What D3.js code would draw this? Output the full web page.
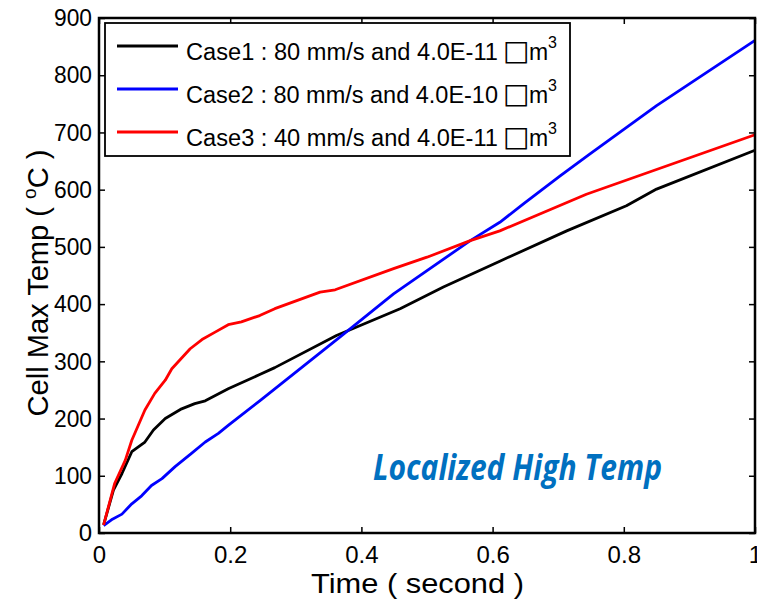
<!DOCTYPE html>
<html>
<head>
<meta charset="utf-8">
<script src="https://cdn.jsdelivr.net/npm/d3@7"></script>
<style>
  body { margin: 0; background: #fff; }
  svg { display: block; font-family: "Liberation Sans", Arial, sans-serif; }
</style>
</head>
<body>
<script>
const w = 757;
const h = 600;
const margin = { top: 18, right: 2, bottom: 67, left: 99 };

// Case1 : 80 mm/s and 4.0E-11
const case1Time = [0.007, 0.022, 0.035, 0.05, 0.07, 0.083, 0.101, 0.126, 0.146, 0.162, 0.197, 0.245, 0.268, 0.362, 0.459, 0.525, 0.611, 0.713, 0.804, 0.85, 1.0];
const case1Temp = [14, 75, 104, 142, 159, 180, 200, 217, 226, 231, 252, 277, 289, 345, 392, 430, 475, 528, 572, 601, 669];

// Case2 : 80 mm/s and 4.0E-10
const case2Time = [0.007, 0.019, 0.035, 0.05, 0.065, 0.08, 0.096, 0.116, 0.141, 0.162, 0.182, 0.197, 0.245, 0.268, 0.37, 0.449, 0.566, 0.611, 0.647, 0.703, 0.748, 0.85, 1.0];
const case2Temp = [13, 23, 33, 51, 65, 83, 95, 116, 139, 159, 174, 188, 231, 252, 345, 418, 511, 543, 575, 624, 662, 747, 861];

// Case3 : 40 mm/s and 4.0E-11
const case3Time = [0.007, 0.024, 0.04, 0.05, 0.07, 0.085, 0.101, 0.111, 0.139, 0.157, 0.177, 0.197, 0.217, 0.245, 0.268, 0.337, 0.36, 0.449, 0.5, 0.566, 0.611, 0.743, 1.0];
const case3Temp = [14, 87, 127, 162, 215, 244, 267, 287, 322, 338, 351, 364, 369, 380, 392, 421, 425, 462, 482, 511, 528, 592, 696];

const caseNames = ['Case1 : 80 mm/s and 4.0E-11', 'Case2 : 80 mm/s and 4.0E-10', 'Case3 : 40 mm/s and 4.0E-11'];
const caseColors = ['#000000', '#0000ff', '#ff0000'];
const xTicks = [0, 0.2, 0.4, 0.6, 0.8, 1];
const yTicks = [0, 100, 200, 300, 400, 500, 600, 700, 800, 900];

const series = [
  { name: caseNames[0], color: caseColors[0], pts: case1Time.map((t, i) => [t, case1Temp[i]]) },
  { name: caseNames[1], color: caseColors[1], pts: case2Time.map((t, i) => [t, case2Temp[i]]) },
  { name: caseNames[2], color: caseColors[2], pts: case3Time.map((t, i) => [t, case3Temp[i]]) }
];

const xScale = d3.scaleLinear().domain([0, 1]).range([margin.left, w - margin.right]);
const yScale = d3.scaleLinear().domain([0, 900]).range([h - margin.bottom, margin.top]);

const svg = d3.select('body').append('svg')
  .attr('width', w)
  .attr('height', h);

// tick marks inside the box on all four sides
const fmtX = d => d === 0 || d === 1 ? String(d) : d3.format('.1f')(d);
svg.append('g')
  .attr('transform', `translate(0,${h - margin.bottom})`)
  .call(d3.axisBottom(xScale).tickValues(xTicks).tickSizeInner(-6).tickSizeOuter(0).tickPadding(13).tickFormat(fmtX))
  .call(g => g.selectAll('text').attr('font-size', 24).attr('fill', '#000').attr('font-family', '"Liberation Sans", Arial, sans-serif'));
svg.append('g')
  .attr('transform', `translate(0,${margin.top})`)
  .call(d3.axisTop(xScale).tickValues(xTicks).tickSizeInner(-6).tickSizeOuter(0).tickFormat(''));
svg.append('g')
  .attr('transform', `translate(${margin.left},0)`)
  .call(d3.axisLeft(yScale).tickValues(yTicks).tickSizeInner(-6).tickSizeOuter(0).tickPadding(7))
  .call(g => g.selectAll('text').attr('font-size', 24).attr('fill', '#000').attr('font-family', '"Liberation Sans", Arial, sans-serif')
    .attr('textLength', 38).attr('lengthAdjust', 'spacingAndGlyphs')
    .filter(d => d === 0).attr('textLength', null));
svg.append('g')
  .attr('transform', `translate(${w - margin.right},0)`)
  .call(d3.axisRight(yScale).tickValues(yTicks).tickSizeInner(-6).tickSizeOuter(0).tickFormat(''));

svg.selectAll('.domain').remove();
svg.selectAll('.tick line').attr('stroke', '#000').attr('stroke-width', 1.5);

// the lines
const line = d3.line().x(d => xScale(d[0])).y(d => yScale(d[1]));
svg.append('g').selectAll('path')
  .data(series)
  .enter()
  .append('path')
  .attr('d', d => line(d.pts))
  .attr('fill', 'none')
  .attr('stroke', d => d.color)
  .attr('stroke-width', 2.8)
  .attr('stroke-linejoin', 'round');

// box
svg.append('rect')
  .attr('x', margin.left)
  .attr('y', margin.top)
  .attr('width', w - margin.left - margin.right)
  .attr('height', h - margin.top - margin.bottom)
  .attr('fill', 'none')
  .attr('stroke', '#000')
  .attr('stroke-width', 2.5);

// legend
const legend = svg.append('g');
legend.append('rect')
  .attr('x', 105).attr('y', 23)
  .attr('width', 465).attr('height', 133)
  .attr('fill', '#fff')
  .attr('stroke', '#000')
  .attr('stroke-width', 1.8);

const item = legend.selectAll('g.item')
  .data(series)
  .enter()
  .append('g')
  .attr('class', 'item')
  .attr('transform', (d, i) => `translate(0,${46 + i * 43})`);

item.append('line')
  .attr('x1', 117).attr('x2', 178)
  .attr('y1', 0).attr('y2', 0)
  .attr('stroke', d => d.color)
  .attr('stroke-width', 3);

item.append('text')
  .attr('x', 186)
  .attr('y', 14)
  .attr('font-size', 23)
  .attr('fill', '#000')
  .attr('textLength', 312)
  .attr('lengthAdjust', 'spacingAndGlyphs')
  .text(d => d.name);

const unit = item.append('text')
  .attr('y', 14)
  .attr('fill', '#000');
unit.append('tspan').attr('x', 503).attr('font-size', 28).attr('font-family', '"DejaVu Sans", sans-serif').text('\u25A1');
unit.append('tspan').attr('x', 529).attr('font-size', 23).text('m');
unit.append('tspan').attr('x', 548).attr('font-size', 16).attr('dy', -12).text('3');

// axis titles
svg.append('text')
  .attr('x', 417.5)
  .attr('y', 593)
  .attr('text-anchor', 'middle')
  .attr('font-size', 27)
  .attr('textLength', 213)
  .attr('lengthAdjust', 'spacingAndGlyphs')
  .text('Time ( second )');

const yTitle = svg.append('text')
  .attr('transform', 'translate(48,283) rotate(-90)')
  .attr('text-anchor', 'middle')
  .attr('font-size', 29)
  .attr('textLength', 267)
  .attr('lengthAdjust', 'spacingAndGlyphs');
yTitle.append('tspan').text('Cell Max Temp ( ');
yTitle.append('tspan').attr('font-size', 19).attr('dy', -12).text('o');
yTitle.append('tspan').attr('dy', 12).text('C )');

// annotation
svg.append('text')
  .attr('x', 373)
  .attr('y', 480)
  .attr('font-family', '"Open Sans", sans-serif')
  .attr('font-style', 'italic')
  .attr('font-weight', 'bold')
  .attr('font-size', 36)
  .attr('fill', '#0070c0')
  .attr('textLength', 289)
  .attr('lengthAdjust', 'spacingAndGlyphs')
  .text('Localized High Temp');
</script>
</body>
</html>
